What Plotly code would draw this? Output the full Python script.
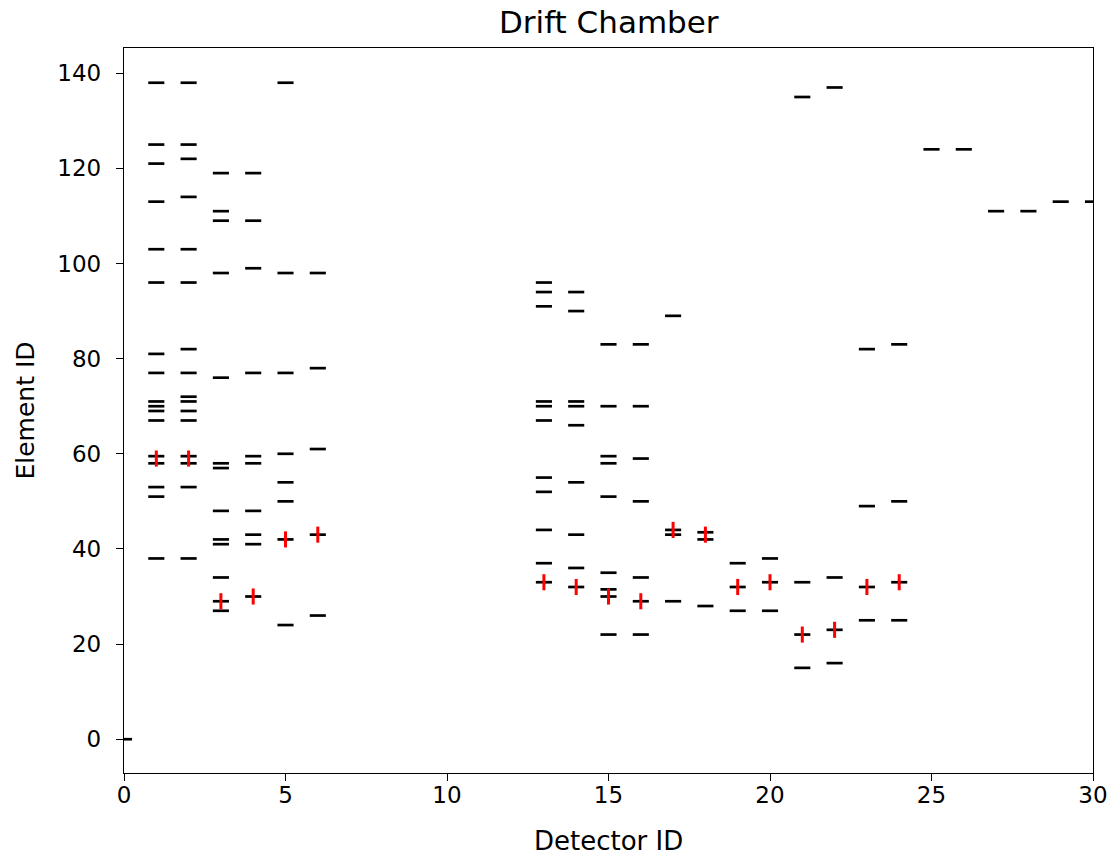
import plotly.graph_objects as go

# Black hits: detector ID -> element IDs
hit_detectors = (
    [0]
    + [1] * 17
    + [2] * 16
    + [3] * 13
    + [4] * 10
    + [5] * 8
    + [6] * 5
    + [13] * 11
    + [14] * 9
    + [15] * 9
    + [16] * 7
    + [17] * 4
    + [18] * 3
    + [19] * 3
    + [20] * 3
    + [21] * 4
    + [22] * 4
    + [23] * 4
    + [24] * 4
    + [25, 26, 27, 28, 29, 30]
)
hit_elements = (
    [0]
    + [138, 125, 121, 113, 103, 96, 81, 77, 71, 70, 69, 67, 59.5, 58, 53, 51, 38]
    + [138, 125, 122, 114, 103, 96, 82, 77, 72, 71, 69, 67, 59.5, 58, 53, 38]
    + [119, 111, 109, 98, 76, 58, 57, 48, 42, 41, 34, 29, 27]
    + [119, 109, 99, 77, 59.5, 58, 48, 43, 41, 30]
    + [138, 98, 77, 60, 54, 50, 42, 24]
    + [98, 78, 61, 43, 26]
    + [96, 94, 91, 71, 70, 67, 55, 52, 44, 37, 33]
    + [94, 90, 71, 70, 66, 54, 43, 36, 32]
    + [83, 70, 59.5, 58, 51, 35, 31.5, 30, 22]
    + [83, 70, 59, 50, 34, 29, 22]
    + [89, 44, 43, 29]
    + [43.5, 42, 28]
    + [37, 32, 27]
    + [38, 33, 27]
    + [135, 33, 22, 15]
    + [137, 34, 23, 16]
    + [82, 49, 32, 25]
    + [83, 50, 33, 25]
    + [124, 124, 111, 111, 113, 113]
)

# Red track hits
track_detectors = [1, 2, 3, 4, 5, 6, 13, 14, 15, 16, 17, 18, 19, 20, 21, 22, 23, 24]
track_elements = [59, 59, 29, 30, 42, 43, 33, 32, 30, 29, 44, 43, 32, 33, 22, 23, 32, 33]

x_ticks = [0, 5, 10, 15, 20, 25, 30]
y_ticks = [0, 20, 40, 60, 80, 100, 120, 140]

FONT = "DejaVu Sans"

W, H = 1112, 857
ML, MR, MT, MB = 124, 19, 48, 84

fig = go.Figure()
fig.add_trace(go.Scatter(
    x=hit_detectors, y=hit_elements, mode="markers",
    marker=dict(symbol="line-ew", size=11.5, color="black",
                line=dict(color="black", width=2.7)),
    showlegend=False, hoverinfo="x+y",
))
fig.add_trace(go.Scatter(
    x=track_detectors, y=track_elements, mode="markers",
    marker=dict(symbol="line-ns", size=11.5, color="red",
                line=dict(color="red", width=3)),
    showlegend=False, hoverinfo="x+y",
))

axis_common = dict(
    showline=True, linecolor="black", linewidth=1.3, mirror=True,
    ticks="outside", ticklen=7, tickwidth=1.3, tickcolor="black",
    showgrid=False, zeroline=False,
    tickfont=dict(family=FONT, size=23, color="black"),
)

fig.update_layout(
    width=W, height=H,
    margin=dict(l=ML, r=MR, t=MT, b=MB, autoexpand=False),
    paper_bgcolor="white", plot_bgcolor="white",
    xaxis=dict(range=[0, 30], tickvals=x_ticks, ticktext=[str(v) for v in x_ticks],
               ticklabelstandoff=-6, **axis_common),
    yaxis=dict(range=[-7.1, 145.3], tickvals=y_ticks, ticktext=[str(v) for v in y_ticks],
               ticklabelstandoff=10, **axis_common),
    annotations=[
        dict(text="Drift Chamber", xref="paper", yref="paper", x=0.5, y=1,
             xanchor="center", yanchor="middle", yshift=26, showarrow=False,
             font=dict(family=FONT, size=31, color="black")),
        dict(text="Detector ID", xref="paper", yref="paper", x=0.5, y=0,
             xanchor="center", yanchor="middle", yshift=-68, showarrow=False,
             font=dict(family=FONT, size=26, color="black")),
        dict(text="Element ID", xref="paper", yref="paper", x=0, y=0.5,
             xanchor="center", yanchor="middle", xshift=-99, textangle=-90,
             showarrow=False, font=dict(family=FONT, size=25, color="black")),
    ],
)

fig.write_html("out.html",
               config={"displayModeBar": False},
               post_script="document.body.style.margin='0';document.body.style.overflow='hidden';")
